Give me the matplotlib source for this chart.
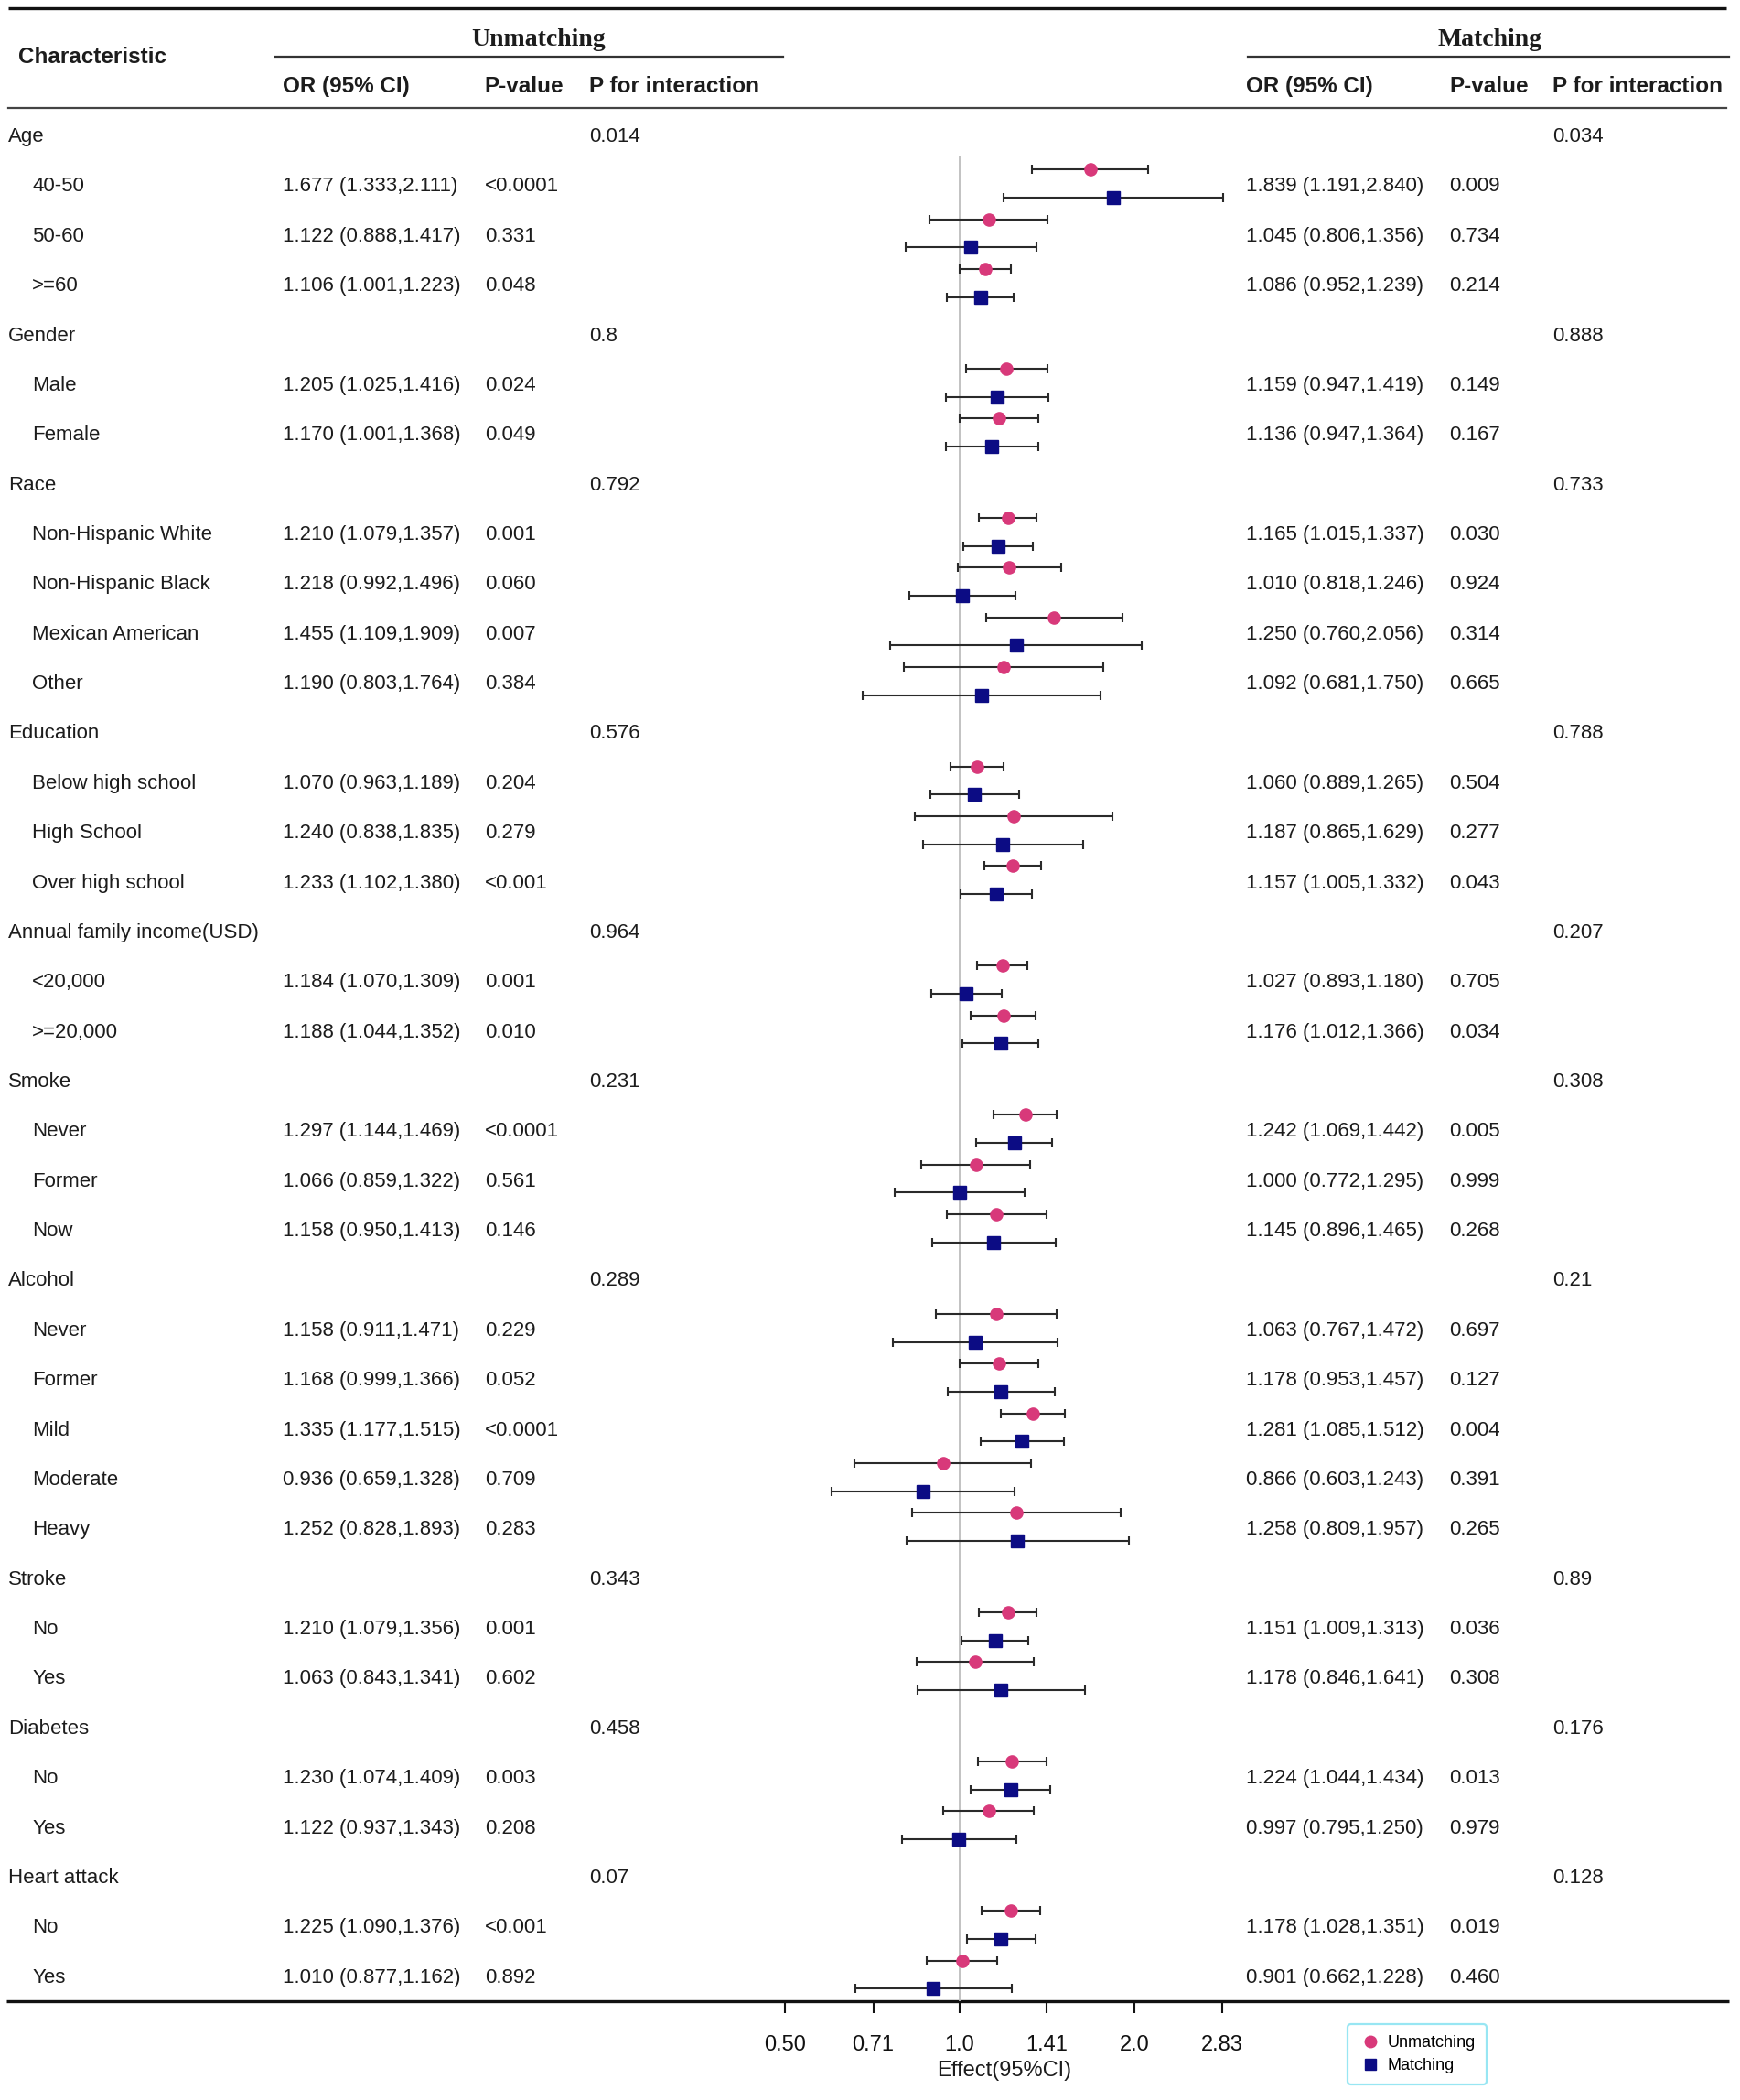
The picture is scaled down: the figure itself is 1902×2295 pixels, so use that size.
import matplotlib
matplotlib.use("Agg")
import matplotlib.pyplot as plt
from matplotlib.lines import Line2D
from matplotlib.ticker import NullLocator, FixedLocator, FixedFormatter

# ---------------- data ----------------
groups = ["Age", "Gender", "Race", "Education", "Annual family income(USD)",
          "Smoke", "Alcohol", "Stroke", "Diabetes", "Heart attack"]
subgroups = [["40-50", "50-60", ">=60"],
             ["Male", "Female"],
             ["Non-Hispanic White", "Non-Hispanic Black", "Mexican American", "Other"],
             ["Below high school", "High School", "Over high school"],
             ["<20,000", ">=20,000"],
             ["Never", "Former", "Now"],
             ["Never", "Former", "Mild", "Moderate", "Heavy"],
             ["No", "Yes"],
             ["No", "Yes"],
             ["No", "Yes"]]
p_int_unm = ["0.014", "0.8", "0.792", "0.576", "0.964", "0.231", "0.289", "0.343", "0.458", "0.07"]
p_int_mat = ["0.034", "0.888", "0.733", "0.788", "0.207", "0.308", "0.21", "0.89", "0.176", "0.128"]

unm_or = [1.677, 1.122, 1.106, 1.205, 1.170, 1.210, 1.218, 1.455, 1.190, 1.070, 1.240, 1.233,
          1.184, 1.188, 1.297, 1.066, 1.158, 1.158, 1.168, 1.335, 0.936, 1.252, 1.210, 1.063,
          1.230, 1.122, 1.225, 1.010]
unm_lo = [1.333, 0.888, 1.001, 1.025, 1.001, 1.079, 0.992, 1.109, 0.803, 0.963, 0.838, 1.102,
          1.070, 1.044, 1.144, 0.859, 0.950, 0.911, 0.999, 1.177, 0.659, 0.828, 1.079, 0.843,
          1.074, 0.937, 1.090, 0.877]
unm_hi = [2.111, 1.417, 1.223, 1.416, 1.368, 1.357, 1.496, 1.909, 1.764, 1.189, 1.835, 1.380,
          1.309, 1.352, 1.469, 1.322, 1.413, 1.471, 1.366, 1.515, 1.328, 1.893, 1.356, 1.341,
          1.409, 1.343, 1.376, 1.162]
unm_p = ["<0.0001", "0.331", "0.048", "0.024", "0.049", "0.001", "0.060", "0.007", "0.384",
         "0.204", "0.279", "<0.001", "0.001", "0.010", "<0.0001", "0.561", "0.146", "0.229",
         "0.052", "<0.0001", "0.709", "0.283", "0.001", "0.602", "0.003", "0.208", "<0.001", "0.892"]

mat_or = [1.839, 1.045, 1.086, 1.159, 1.136, 1.165, 1.010, 1.250, 1.092, 1.060, 1.187, 1.157,
          1.027, 1.176, 1.242, 1.000, 1.145, 1.063, 1.178, 1.281, 0.866, 1.258, 1.151, 1.178,
          1.224, 0.997, 1.178, 0.901]
mat_lo = [1.191, 0.806, 0.952, 0.947, 0.947, 1.015, 0.818, 0.760, 0.681, 0.889, 0.865, 1.005,
          0.893, 1.012, 1.069, 0.772, 0.896, 0.767, 0.953, 1.085, 0.603, 0.809, 1.009, 0.846,
          1.044, 0.795, 1.028, 0.662]
mat_hi = [2.840, 1.356, 1.239, 1.419, 1.364, 1.337, 1.246, 2.056, 1.750, 1.265, 1.629, 1.332,
          1.180, 1.366, 1.442, 1.295, 1.465, 1.472, 1.457, 1.512, 1.243, 1.957, 1.313, 1.641,
          1.434, 1.250, 1.351, 1.228]
mat_p = ["0.009", "0.734", "0.214", "0.149", "0.167", "0.030", "0.924", "0.314", "0.665",
         "0.504", "0.277", "0.043", "0.705", "0.034", "0.005", "0.999", "0.268", "0.697",
         "0.127", "0.004", "0.391", "0.265", "0.036", "0.308", "0.013", "0.979", "0.019", "0.460"]

tick_vals = [0.5, 0.71, 1.0, 1.41, 2.0, 2.83]
tick_labels = ["0.50", "0.71", "1.0", "1.41", "2.0", "2.83"]

# ---------------- layout ----------------
W, H = 1300.0, 1568.6
PINK = "#D8397A"
NAVY = "#0C0C84"
TXT = "#1c1c1c"
FS = 16
plt.rcParams["font.family"] = ["Liberation Sans", "DejaVu Sans"]

fig = plt.figure(figsize=(19.02, 22.95), dpi=100)
ax_t = fig.add_axes([0, 0, 1, 1])
ax_t.set_xlim(0, W)
ax_t.set_ylim(H, 0)
ax_t.axis("off")

row0, dy = 100.0, 37.16
toff = 2.2   # visual centring of text relative to rows
x_grp, x_sub, x_or, x_p, x_int = 6, 24, 211, 362, 440
x_or2, x_p2, x_int2 = 931, 1083, 1160

# header
ax_t.plot([6, 1290], [6, 6], color="#111", lw=2.4, solid_capstyle="butt")
ax_t.text(14, 43, "Characteristic", fontsize=17.5, fontweight="bold", va="center", color=TXT)
ax_t.text(402, 29.5, "Unmatching", fontsize=20, fontweight="bold", family="Liberation Serif",
          ha="center", va="center", color=TXT)
ax_t.text(1113, 29.5, "Matching", fontsize=20, fontweight="bold", family="Liberation Serif",
          ha="center", va="center", color=TXT)
ax_t.plot([206, 585], [42.5, 42.5], color="#333", lw=1.6)
ax_t.plot([932, 1292], [42.5, 42.5], color="#333", lw=1.6)
for x, s in [(x_or, "OR (95% CI)"), (x_p, "P-value"), (x_int, "P for interaction"),
             (x_or2, "OR (95% CI)"), (x_p2, "P-value"), (x_int2, "P for interaction")]:
    ax_t.text(x, 64.5, s, fontsize=17.5, fontweight="bold", va="center", color=TXT)
ax_t.plot([6, 1290], [80.5, 80.5], color="#444", lw=1.6)
ax_t.plot([5, 1292], [1494.5, 1494.5], color="#111", lw=2.4, solid_capstyle="butt")

# rows
y_sub = []
r = 0
for g, subs, pu, pm in zip(groups, subgroups, p_int_unm, p_int_mat):
    yg = row0 + r * dy
    ax_t.text(x_grp, yg + toff, g, fontsize=FS, va="center", color=TXT)
    ax_t.text(x_int, yg + toff, pu, fontsize=FS, va="center", color=TXT)
    ax_t.text(x_int2, yg + toff, pm, fontsize=FS, va="center", color=TXT)
    r += 1
    for s in subs:
        y = row0 + r * dy
        ax_t.text(x_sub, y + toff, s, fontsize=FS, va="center", color=TXT)
        y_sub.append(y)
        r += 1

for i, y in enumerate(y_sub):
    ax_t.text(x_or, y + toff, f"{unm_or[i]:.3f} ({unm_lo[i]:.3f},{unm_hi[i]:.3f})",
              fontsize=FS, va="center", color=TXT)
    ax_t.text(x_p, y + toff, unm_p[i], fontsize=FS, va="center", color=TXT)
    ax_t.text(x_or2, y + toff, f"{mat_or[i]:.3f} ({mat_lo[i]:.3f},{mat_hi[i]:.3f})",
              fontsize=FS, va="center", color=TXT)
    ax_t.text(x_p2, y + toff, mat_p[i], fontsize=FS, va="center", color=TXT)

# forest axes
xl, xr, x1, ppl = 575.0, 925.0, 717.0, 130.7
ytop, ybot = 85.0, 1494.5
ax_f = fig.add_axes([xl / W, 1 - ybot / H, (xr - xl) / W, (ybot - ytop) / H])
ax_f.patch.set_alpha(0)
ax_f.set_xscale("log", base=2)
ax_f.set_xlim(2 ** ((xl - x1) / ppl), 2 ** ((xr - x1) / ppl))
ax_f.set_ylim(ybot, ytop)
for sp in ax_f.spines.values():
    sp.set_visible(False)
ax_f.axvline(1.0, ymin=0, ymax=(ybot - 117) / (ybot - ytop), color="#bdbdbd", lw=1.3, zorder=1)

yu = [y - 10.5 for y in y_sub]
ym = [y + 10.5 for y in y_sub]
ax_f.errorbar(unm_or, yu, xerr=[[o - l for o, l in zip(unm_or, unm_lo)],
                                [h - o for o, h in zip(unm_or, unm_hi)]],
              fmt="o", ms=9.5, mfc=PINK, mec=PINK, ecolor="#2a2a2a", elinewidth=1.5,
              capsize=3.8, capthick=1.5, zorder=3)
ax_f.errorbar(mat_or, ym, xerr=[[o - l for o, l in zip(mat_or, mat_lo)],
                                [h - o for o, h in zip(mat_or, mat_hi)]],
              fmt="s", ms=9.5, mfc=NAVY, mec=NAVY, ecolor="#2a2a2a", elinewidth=1.5,
              capsize=3.8, capthick=1.5, zorder=3)

ax_f.xaxis.set_major_locator(FixedLocator(tick_vals))
ax_f.xaxis.set_major_formatter(FixedFormatter(tick_labels))
ax_f.xaxis.set_minor_locator(NullLocator())
ax_f.set_yticks([])
ax_f.tick_params(axis="x", direction="out", length=9, width=1.5, pad=18,
                 labelsize=17, colors="#111")
ax_f.set_xlabel("Effect(95%CI)", fontsize=17, labelpad=4, color=TXT)

handles = [Line2D([], [], marker="o", ls="none", ms=9, mfc=PINK, mec=PINK),
           Line2D([], [], marker="s", ls="none", ms=8, mfc=NAVY, mec=NAVY)]
leg = fig.legend(handles, ["Unmatching", "Matching"], loc="upper left",
                 bbox_to_anchor=(1007 / W, 1 - 1512 / H), fontsize=13, frameon=True,
                 fancybox=True, edgecolor="#7fe0f0", handlelength=1.4, handletextpad=0.35,
                 borderpad=0.65, labelspacing=0.45, borderaxespad=0)
leg.get_frame().set_linewidth(1.6)

fig.savefig("out.png", dpi=100)
